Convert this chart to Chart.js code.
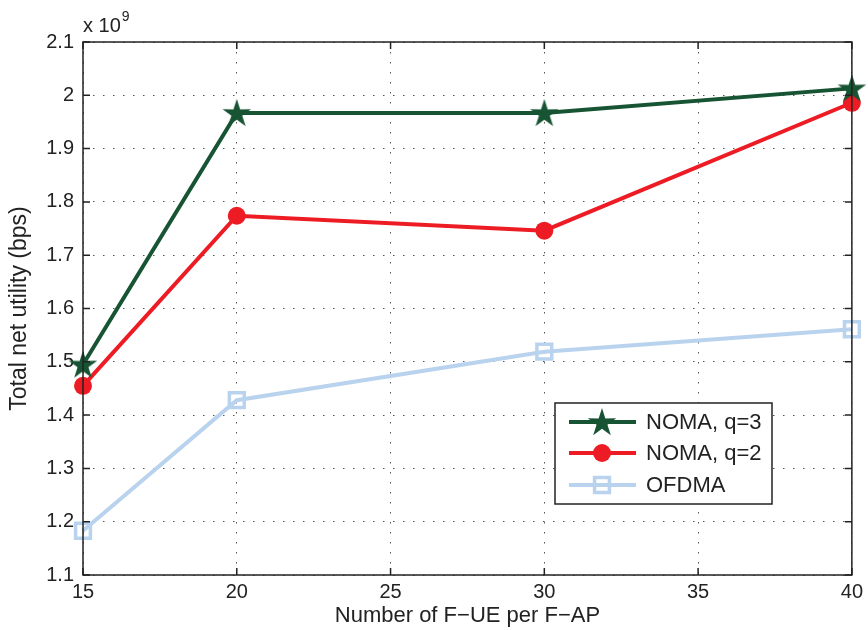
<!DOCTYPE html>
<html>
<head>
<meta charset="utf-8">
<script src="https://cdn.jsdelivr.net/npm/chart.js@4.4.1/dist/chart.umd.min.js"></script>
<style>
  html, body { margin: 0; padding: 0; background: #fff; }
  #wrap { width: 868px; height: 630px; }
</style>
</head>
<body>
<div id="wrap"><canvas id="chart"></canvas></div>
<script>
const xValues = [15, 20, 30, 40];
const nomaQ3 = [1.495, 1.967, 1.967, 2.013];
const nomaQ2 = [1.455, 1.774, 1.746, 1.986];
const ofdma = [1.183, 1.428, 1.519, 1.561];
const seriesLabels = ['NOMA, q=3', 'NOMA, q=2', 'OFDMA'];
const xTicks = [15, 20, 25, 30, 35, 40];
const yTicks = [1.1, 1.2, 1.3, 1.4, 1.5, 1.6, 1.7, 1.8, 1.9, 2, 2.1];

const FONT = "'Liberation Sans', Arial, sans-serif";
const GREEN = '#175433';
const RED = '#ed1c24';
const BLUE = '#b9d3ee';

// filled pentagram marker, like matlab 'p'
function makeStar(size, color) {
  const c = document.createElement('canvas');
  c.width = size; c.height = size;
  const g = c.getContext('2d');
  const cx = size / 2, cy = size / 2 + 1;
  const R = size / 2, r = R * 0.38;
  g.beginPath();
  for (let i = 0; i < 10; i++) {
    const rad = i % 2 === 0 ? R : r;
    const a = -Math.PI / 2 + i * Math.PI / 5;
    const px = cx + rad * Math.cos(a), py = cy + rad * Math.sin(a);
    if (i === 0) g.moveTo(px, py); else g.lineTo(px, py);
  }
  g.closePath();
  g.fillStyle = color;
  g.fill();
  return c;
}
const star = makeStar(30, GREEN);

const toPoints = ys => xValues.map((x, i) => ({ x: x, y: ys[i] }));

// box, inward ticks, exponent label and legend
const matlabAxes = {
  id: 'matlabAxes',
  afterDraw(chart) {
    const ctx = chart.ctx;
    const a = chart.chartArea;
    const xs = chart.scales.x, ys = chart.scales.y;
    ctx.save();
    ctx.strokeStyle = '#222';
    ctx.lineWidth = 1.5;
    ctx.strokeRect(a.left, a.top, a.right - a.left, a.bottom - a.top);
    const tl = 7;
    ctx.beginPath();
    xTicks.forEach(v => {
      const px = xs.getPixelForValue(v);
      ctx.moveTo(px, a.bottom); ctx.lineTo(px, a.bottom - tl);
      ctx.moveTo(px, a.top); ctx.lineTo(px, a.top + tl);
    });
    yTicks.forEach(v => {
      const py = ys.getPixelForValue(v);
      ctx.moveTo(a.left, py); ctx.lineTo(a.left + tl, py);
      ctx.moveTo(a.right, py); ctx.lineTo(a.right - tl, py);
    });
    ctx.stroke();

    // x 10^9
    ctx.fillStyle = '#222';
    ctx.textBaseline = 'alphabetic';
    ctx.textAlign = 'left';
    ctx.font = '20px ' + FONT;
    ctx.fillText('x 10', a.left, a.top - 10);
    const w = ctx.measureText('x 10').width;
    ctx.font = '14px ' + FONT;
    ctx.fillText('9', a.left + w + 1, a.top - 21);

    // legend
    const lx = 555, ly = 403, lw = 217, lh = 101;
    ctx.fillStyle = '#fff';
    ctx.fillRect(lx, ly, lw, lh);
    ctx.strokeStyle = '#222';
    ctx.lineWidth = 1.5;
    ctx.strokeRect(lx, ly, lw, lh);
    const rows = [422, 453, 485];
    chart.data.datasets.forEach((ds, i) => {
      const y = rows[i];
      ctx.strokeStyle = ds.borderColor;
      ctx.lineWidth = ds.borderWidth;
      ctx.beginPath();
      ctx.moveTo(569, y); ctx.lineTo(636, y);
      ctx.stroke();
      ctx.fillStyle = ds.pointBackgroundColor;
      ctx.strokeStyle = ds.borderColor;
      ctx.lineWidth = ds.pointBorderWidth;
      Chart.helpers.drawPoint(ctx, {
        pointStyle: ds.pointStyle,
        radius: ds.pointRadius,
        borderWidth: ds.pointBorderWidth,
        rotation: 0
      }, 602, y);
      ctx.fillStyle = '#222';
      ctx.font = '22px ' + FONT;
      ctx.textBaseline = 'middle';
      ctx.textAlign = 'left';
      ctx.fillText(ds.label, 646, y + 1);
    });
    ctx.restore();
  }
};

new Chart(document.getElementById('chart'), {
  type: 'line',
  data: {
    datasets: [
      {
        label: seriesLabels[0],
        data: toPoints(nomaQ3),
        borderColor: GREEN,
        backgroundColor: GREEN,
        pointBackgroundColor: GREEN,
        borderWidth: 4,
        pointStyle: star,
        pointRadius: 15,
        pointBorderWidth: 0,
        clip: false
      },
      {
        label: seriesLabels[1],
        data: toPoints(nomaQ2),
        borderColor: RED,
        backgroundColor: RED,
        pointBackgroundColor: RED,
        borderWidth: 4,
        pointStyle: 'circle',
        pointRadius: 9,
        pointBorderWidth: 0,
        clip: false
      },
      {
        label: seriesLabels[2],
        data: toPoints(ofdma),
        borderColor: BLUE,
        backgroundColor: 'rgba(0,0,0,0)',
        pointBackgroundColor: 'rgba(0,0,0,0)',
        borderWidth: 4,
        pointStyle: 'rect',
        pointRadius: 10.5,
        pointBorderWidth: 3.5,
        clip: false
      }
    ]
  },
  options: {
    responsive: true,
    maintainAspectRatio: false,
    animation: false,
    layout: { padding: { top: 42, right: 16, left: 0, bottom: 0 } },
    plugins: {
      legend: { display: false },
      tooltip: { enabled: false }
    },
    elements: { line: { tension: 0 } },
    scales: {
      x: {
        type: 'linear',
        min: 15,
        max: 40,
        afterBuildTicks: s => { s.ticks = xTicks.map(v => ({ value: v })); },
        afterFit: s => { s.height = 55; },
        ticks: { color: '#222', font: { family: FONT, size: 20 }, padding: 5, maxRotation: 0 },
        grid: { color: '#555', lineWidth: 1, drawTicks: false },
        border: { display: false, dash: [1.5, 8.5] },
        title: { display: true, text: 'Number of F\u2212UE per F\u2212AP', color: '#222', font: { family: FONT, size: 22 }, padding: { top: 0, bottom: 1 } }
      },
      y: {
        min: 1.1,
        max: 2.1,
        afterBuildTicks: s => { s.ticks = yTicks.map(v => ({ value: v })); },
        afterFit: s => { s.width = 83; },
        ticks: {
          color: '#222', font: { family: FONT, size: 20 }, padding: 9,
          callback: v => String(Number(v.toFixed(1)))
        },
        grid: { color: '#555', lineWidth: 1, drawTicks: false },
        border: { display: false, dash: [1.5, 8.5] },
        title: { display: true, text: 'Total net utility (bps)', color: '#222', font: { family: FONT, size: 23 }, padding: { top: 6, bottom: 4 } }
      }
    }
  },
  plugins: [matlabAxes]
});
</script>
</body>
</html>
